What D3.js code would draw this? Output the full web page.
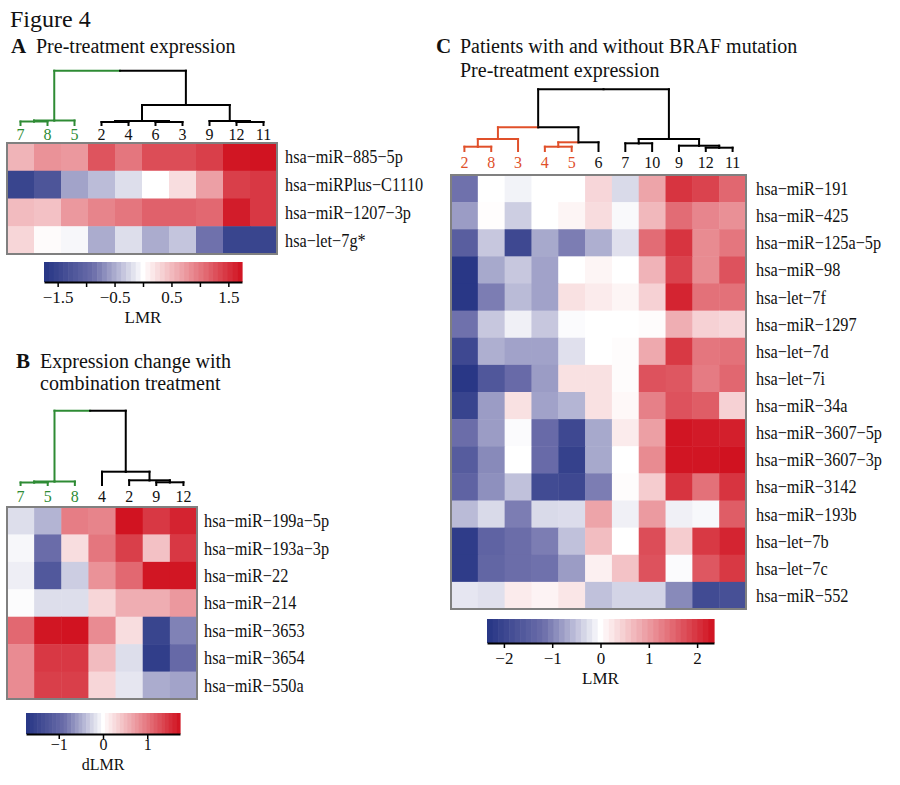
<!DOCTYPE html>
<html><head><meta charset="utf-8">
<script src="https://cdn.jsdelivr.net/npm/d3@7"></script>
<style>
body{margin:0;background:#fff}
svg{display:block}
text{font-family:"Liberation Serif","Times New Roman",serif;fill:#111}
</style>
</head><body>
<svg id="fig" width="900" height="785"></svg>
<script>
// ---------------- DATA ----------------
const colsA = ["7","8","5","2","4","6","3","9","12","11"];
const rowsA = ["hsa−miR−885−5p","hsa−miRPlus−C1110","hsa−miR−1207−3p","hsa−let−7g*"];
const valuesA = [
  [0.55,0.8,0.75,1.25,1.0,1.3,1.3,1.4,1.7,1.72],
  [-1.5,-1.25,-0.55,-0.4,-0.2,0,0.25,0.7,1.4,1.45],
  [0.5,0.45,0.75,0.9,1.0,1.15,1.15,1.1,1.65,1.45],
  [0.3,0.03,-0.05,-0.5,-0.2,-0.5,-0.35,-0.85,-1.5,-1.5]
];
// dendrogram: [mergeHeight, left, right]
const treeA = [54.3, [4.5, [3.5,"7","8"], "5"], [20, [4, [3,"2","4"], [3,"6","3"]], [4, "9", [3,"12","11"]]]];
const groupA = ["7","8","5"];
const maxA = 1.74;
const ticksA = [-1.5,-1,-0.5,0,0.5,1,1.5];
const tickLabelsA = ["−1.5","","−0.5","","0.5","","1.5"];
const legendA = "LMR";

const colsB = ["7","5","8","4","2","9","12"];
const rowsB = ["hsa−miR−199a−5p","hsa−miR−193a−3p","hsa−miR−22","hsa−miR−214","hsa−miR−3653","hsa−miR−3654","hsa−miR−550a"];
const valuesB = [
  [-0.2,-0.45,0.95,0.9,1.72,1.45,1.6],
  [-0.05,-0.9,0.25,1.0,1.4,0.45,1.45],
  [-0.1,-1.2,-0.3,0.8,1.1,1.7,1.7],
  [-0.02,-0.2,-0.2,0.3,0.6,0.6,0.75],
  [1.1,1.7,1.72,0.85,0.25,-1.5,-0.75],
  [0.85,1.45,1.45,0.5,-0.2,-1.6,-0.95],
  [0.85,1.4,1.4,0.3,-0.15,-0.5,-0.55]
];
const treeB = [74.3, [3.5, [2.5,"7","5"], "8"], [13.3, "4", [4.7, "2", [2.7,"9","12"]]]];
const groupB = ["7","5","8"];
const maxB = 1.74;
const ticksB = [-1,0,1];
const tickLabelsB = ["−1","0","1"];
const legendB = "dLMR";

const colsC = ["2","8","3","4","5","6","7","10","9","12","11"];
const rowsC = ["hsa−miR−191","hsa−miR−425","hsa−miR−125a−5p","hsa−miR−98","hsa−let−7f","hsa−miR−1297","hsa−let−7d","hsa−let−7i","hsa−miR−34a","hsa−miR−3607−5p","hsa−miR−3607−3p","hsa−miR−3142","hsa−miR−193b","hsa−let−7b","hsa−let−7c","hsa−miR−552"];
const valuesC = [
  [-1.15,0,-0.1,0,0,0.4,-0.3,0.9,2.0,1.85,1.5],
  [-0.8,0.02,-0.4,0,0.1,0.35,-0.05,0.7,1.45,1.2,1.1],
  [-1.5,-0.45,-1.95,-0.7,-1.05,-0.65,-0.25,1.45,2.0,1.15,1.35],
  [-2.3,-0.7,-0.45,-0.75,0,0.1,0,0.75,1.85,1.15,1.7],
  [-2.3,-1.05,-0.55,-0.75,0.3,0.2,0.1,0.45,2.15,1.4,1.4],
  [-1.15,-0.45,-0.12,-0.45,-0.03,0,0,0.03,0.8,0.45,0.4],
  [-1.95,-0.65,-0.75,-0.75,-0.25,0,0.03,0.85,1.95,1.35,1.4],
  [-2.3,-1.65,-1.25,-0.8,0.3,0.3,0.03,1.7,1.65,1.3,1.5],
  [-2.05,-0.8,0.3,-0.75,-0.6,0.3,0.07,1.25,1.7,1.6,0.45],
  [-1.2,-0.8,-0.03,-1.25,-1.95,-0.7,0.2,0.95,2.3,2.25,2.2],
  [-1.55,-0.95,0,-1.25,-2.1,-0.7,0,1.15,2.3,2.3,2.33],
  [-1.4,-0.9,-0.5,-1.9,-1.95,-1.05,0.03,0.5,2.0,1.4,2.0],
  [-0.55,-0.3,-1.05,-0.3,-0.28,0.9,-0.12,1.0,-0.12,-0.06,1.6],
  [-2.2,-1.4,-1.2,-1.05,-0.5,0.65,0,1.75,0.5,1.95,2.15],
  [-2.2,-1.35,-1.2,-1.15,-0.8,0.15,0.6,1.7,-0.03,1.65,1.95],
  [-0.2,-0.25,0.2,0.12,0.25,-0.5,-0.35,-0.35,-0.95,-1.9,-1.8]
];
const treeC = [61.7, [23.7, [12, [4.3,"2","8"], "3"], [8.7, [4.3,"4","5"], "6"]], [12, [7.7,"7","10"], [5.3, "9", [3.3,"12","11"]]]];
const groupC = ["2","8","3","4","5"];
const maxC = 2.35;
const ticksC = [-2,-1,0,1,2];
const tickLabelsC = ["−2","−1","0","1","2"];
const legendC = "LMR";

// ---------------- DRAWING ----------------
const svg = d3.select("#fig");
const BLUE = "#263584", MIDBLUE = "#6c6eaa", RED = "#d0101e";

function colorFor(m){
  return d3.scaleLinear().domain([-m,-m/2,0,m/2,m])
    .range([BLUE, MIDBLUE, "#ffffff", d3.interpolateRgb("#ffffff",RED)(0.5), RED])
    .clamp(true);
}

function layoutTree(node, x){
  if (typeof node === "string") return {x: x(node) + x.bandwidth()/2, h: 0, leaves:[node]};
  const L = layoutTree(node[1], x), R = layoutTree(node[2], x);
  return {h: node[0], x: (L.x + R.x)/2, L, R, leaves: L.leaves.concat(R.leaves)};
}

function drawPanel(p){
  const g = svg.append("g");
  const x = d3.scaleBand().domain(p.cols).range([p.x0, p.x1]);
  const y = d3.scaleBand().domain(p.rows).range([p.y0, p.y1]);
  const col = colorFor(p.max);
  const cells = [];
  p.values.forEach((row,i)=>row.forEach((v,j)=>cells.push({r:p.rows[i], c:p.cols[j], v})));
  g.selectAll("rect.cell").data(cells).join("rect").attr("class","cell")
    .attr("x", d=>x(d.c)).attr("y", d=>y(d.r))
    .attr("width", x.bandwidth()+0.5).attr("height", y.bandwidth()+0.5)
    .attr("fill", d=>col(d.v));
  g.append("rect").attr("x",p.x0).attr("y",p.y0).attr("width",p.x1-p.x0).attr("height",p.y1-p.y0)
    .attr("fill","none").attr("stroke","#808080").attr("stroke-width",2);
  // row labels (slightly condensed serif)
  g.selectAll("text.row").data(p.rows).join("text").attr("class","row")
    .attr("transform", d=>`translate(${p.x1 + p.rowGap},${y(d)+y.bandwidth()/2}) scale(0.88,1)`)
    .attr("dy","0.35em")
    .style("font-size","18.5px").text(d=>d);
  // column labels
  g.selectAll("text.col").data(p.cols).join("text").attr("class","col")
    .attr("x", d=>x(d)+x.bandwidth()/2).attr("y", p.colLabelY)
    .attr("text-anchor","middle").style("font-size","16px")
    .style("fill", d=>p.group.includes(d)? p.hl : "#111").text(d=>d);
  // dendrogram
  const root = layoutTree(p.tree, x);
  const hy = d3.scaleLinear().domain([0, p.tree[0]]).range([p.dBase, p.dTop]);
  const segs = [];
  const colorOf = n => n.leaves.every(l=>p.group.includes(l)) ? p.hl : "#000";
  (function walk(n){
    if (!n.L) return;
    [n.L, n.R].forEach(c=>{
      segs.push({x1:n.x, y1:hy(n.h), x2:c.x, y2:hy(n.h), c:colorOf(c)});
      segs.push({x1:c.x, y1:hy(n.h), x2:c.x, y2:hy(c.h), c:colorOf(c)});
      walk(c);
    });
  })(root);
  g.selectAll("line.dend").data(segs).join("line").attr("class","dend")
    .attr("x1",d=>d.x1).attr("y1",d=>d.y1).attr("x2",d=>d.x2).attr("y2",d=>d.y2)
    .attr("stroke",d=>d.c).attr("stroke-width",2).attr("stroke-linecap","square");
  // color bar
  const cb = p.cb;
  const xs = d3.scaleLinear().domain([-p.max, p.max]).range([cb.x0, cb.x1]);
  const N = 41, step = 2*p.max/N;
  const steps = d3.range(N).map(i => -p.max + i*step);
  g.selectAll("rect.cb").data(steps).join("rect").attr("class","cb")
    .attr("x", d=>xs(d)).attr("y", cb.y0)
    .attr("width", xs(step)-xs(0)+0.6).attr("height", cb.y1-cb.y0)
    .attr("fill", d=>col(d+step/2));
  const ax = g.append("g").attr("transform",`translate(0,${cb.y1})`)
    .call(d3.axisBottom(xs).tickValues(p.ticks).tickSize(5).tickSizeOuter(0)
      .tickFormat((d,i)=>p.tickLabels[i]));
  ax.select(".domain").attr("stroke","#000").attr("stroke-width",2);
  ax.selectAll(".tick line").attr("stroke","#000").attr("stroke-width",1.5);
  ax.selectAll(".tick text").attr("y", cb.labelY - cb.y1).attr("dy",0)
    .style("font-size",cb.fs+"px").style("font-family",'"Liberation Serif",serif').attr("fill","#111");
  g.append("text").attr("x", xs(0)).attr("y", cb.titleY).attr("text-anchor","middle")
    .style("font-size",cb.fs+"px").text(p.legend);
}

// titles
svg.append("text").attr("x",10).attr("y",27).style("font-size","24px").text("Figure 4");
function title(xL, xT, yy, letter, lines){
  svg.append("text").attr("x",xL).attr("y",yy[0]).style("font-size","21px").style("font-weight","bold").text(letter);
  lines.forEach((t,i)=>svg.append("text").attr("x",xT).attr("y",yy[i]).style("font-size","20px").text(t));
}
title(11, 36, [53], "A", ["Pre-treatment expression"]);
title(16, 40, [368, 390], "B", ["Expression change with","combination treatment"]);
title(436, 460, [53, 77], "C", ["Patients with and without BRAF mutation","Pre-treatment expression"]);

drawPanel({cols:colsA, rows:rowsA, values:valuesA, tree:treeA, group:groupA, hl:"#2e8b34", max:maxA,
  x0:7, x1:277, y0:143, y1:254, rowGap:8, colLabelY:140, dBase:125, dTop:70.7,
  ticks:ticksA, tickLabels:tickLabelsA, legend:legendA,
  cb:{x0:44, x1:242, y0:262, y1:282, labelY:303, titleY:323, fs:17}});

drawPanel({cols:colsB, rows:rowsB, values:valuesB, tree:treeB, group:groupB, hl:"#2e8b34", max:maxB,
  x0:7, x1:197, y0:507, y1:699, rowGap:7, colLabelY:502, dBase:485, dTop:410.7,
  ticks:ticksB, tickLabels:tickLabelsB, legend:legendB,
  cb:{x0:26, x1:180, y0:713, y1:734, labelY:750, titleY:770, fs:16}});

drawPanel({cols:colsC, rows:rowsC, values:valuesC, tree:treeC, group:groupC, hl:"#e0502a", max:maxC,
  x0:451, x1:746, y0:175, y1:609, rowGap:10, colLabelY:168, dBase:151, dTop:89.3,
  ticks:ticksC, tickLabels:tickLabelsC, legend:legendC,
  cb:{x0:487, x1:714, y0:619, y1:643, labelY:664, titleY:684, fs:17}});
</script>
</body></html>
